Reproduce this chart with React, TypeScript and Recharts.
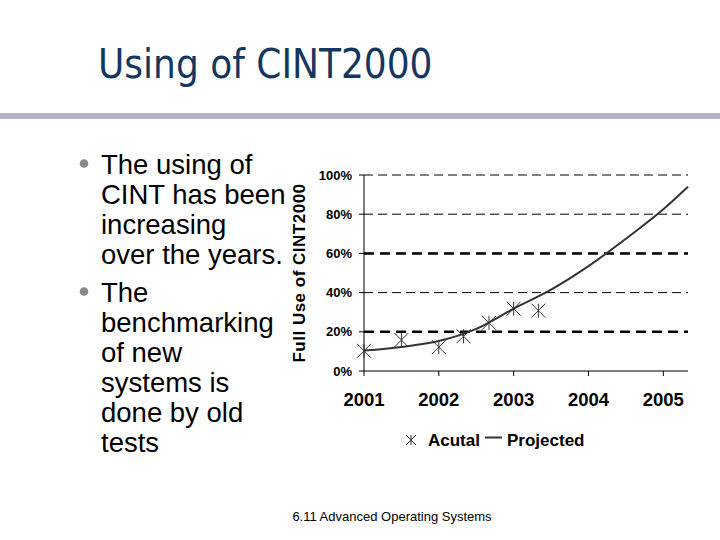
import { ComposedChart, Line, Scatter, XAxis, YAxis, ReferenceLine } from 'recharts'

// actual measurements (asterisks)
const actualYears = [2001, 2001.5, 2002, 2002.33, 2002.67, 2003, 2003.33]
const actualValues = [10.3, 15.8, 12.2, 17.7, 24.6, 31.8, 30.8]

// projected trend
const projectedYears = [2001, 2001.5, 2002, 2002.5, 2003, 2003.5, 2004, 2004.5, 2005, 2005.33]
const projectedValues = [10.4, 12.3, 15.3, 21.5, 31.8, 41.5, 53.5, 67.5, 82.5, 94]

const yearTicks = [2001, 2002, 2003, 2004, 2005]
const percentTicks = [0, 20, 40, 60, 80, 100]
const gridLevels = [20, 40, 60, 80, 100]
const boldGridLevels = [20, 60]

const bulletParagraphs = [
  ['The using of', 'CINT has been', 'increasing', 'over the years.'],
  ['The', 'benchmarking', 'of new', 'systems is', 'done by old', 'tests'],
]

const actual = actualYears.map((year, i) => ({ year, value: actualValues[i] }))
const projected = projectedYears.map((year, i) => ({ year, value: projectedValues[i] }))

const sans = "'Liberation Sans', Arial, sans-serif"

function Star({ cx, cy, size = 7 }: { cx?: number; cy?: number; size?: number }) {
  if (cx == null || cy == null) return null
  const s = size
  return (
    <path
      d={`M${cx - s},${cy - s}L${cx + s},${cy + s}M${cx - s},${cy + s}L${cx + s},${cy - s}M${cx},${cy - s}L${cx},${cy + s}`}
      stroke="#333"
      strokeWidth={1}
      fill="none"
    />
  )
}

function AxisTitle(props: any) {
  const vb = props.viewBox || { x: 0, y: 15, width: 74, height: 196 }
  const x = vb.x + 15
  const y = vb.y + vb.height / 2
  return (
    <text
      x={x}
      y={y}
      transform={`rotate(-90, ${x}, ${y})`}
      textAnchor="middle"
      fontFamily={sans}
      fontWeight="bold"
      fontSize={17}
      letterSpacing={0.5}
      fill="#000"
    >
      Full Use of CINT2000
    </text>
  )
}

export default function App() {
  const lineTops = [174, 302]
  return (
    <div style={{ position: 'absolute', left: 0, top: 0, width: 720, height: 540, background: '#fff' }}>
      <svg width={720} height={540} style={{ position: 'absolute', left: 0, top: 0 }}>
        <text
          x={98}
          y={78}
          fontFamily="'DejaVu Sans Condensed', 'DejaVu Sans', sans-serif"
          style={{ fontStretch: 'condensed' }}
          fontSize={40}
          fill="#15375f"
        >
          Using of CINT2000
        </text>
        <rect x={0} y={113} width={720} height={6} fill="#b3b3cb" />

        {bulletParagraphs.map((lines, p) => (
          <g key={p}>
            <circle cx={84} cy={lineTops[p] - 10.5} r={4.3} fill="#8a8a8a" />
            {lines.map((line, i) => (
              <text key={i} x={101} y={lineTops[p] + i * 30} fontFamily={sans} fontSize={27.5} fill="#000">
                {line}
              </text>
            ))}
          </g>
        ))}

        {/* legend */}
        <Star cx={411} cy={440} size={5} />
        <text x={428} y={446} fontFamily={sans} fontWeight="bold" fontSize={17} fill="#000">
          Acutal
        </text>
        <line x1={485} x2={502} y1={437.5} y2={437.5} stroke="#333" strokeWidth={2} />
        <text x={507} y={446} fontFamily={sans} fontWeight="bold" fontSize={17} fill="#000">
          Projected
        </text>

        <text x={392} y={521} textAnchor="middle" fontFamily={sans} fontSize={13} fill="#000">
          6.11 Advanced Operating Systems
        </text>
      </svg>

      <div style={{ position: 'absolute', left: 290, top: 160 }}>
        <ComposedChart width={420} height={300} margin={{ top: 15, right: 22, bottom: 0, left: 0 }}>
          {gridLevels.map((v) => {
            const bold = boldGridLevels.includes(v)
            return (
              <ReferenceLine
                key={v}
                y={v}
                stroke="#000"
                strokeWidth={bold ? 2.5 : 1}
                strokeDasharray={bold ? '10 6' : '9 5'}
              />
            )
          })}
          <XAxis
            type="number"
            dataKey="year"
            domain={[2001, 2005.33]}
            ticks={yearTicks}
            height={89}
            tickSize={5}
            tickMargin={17}
            stroke="#000"
            tick={{ fontFamily: sans, fontWeight: 'bold', fontSize: 18.5, fill: '#000' }}
          />
          <YAxis
            type="number"
            domain={[0, 100]}
            ticks={percentTicks}
            width={74}
            tickSize={5}
            tickMargin={7}
            stroke="#000"
            tickFormatter={(v: number) => `${v}%`}
            tick={{ fontFamily: sans, fontWeight: 'bold', fontSize: 13, fill: '#000' }}
            label={{ content: AxisTitle }}
          />
          <Line
            data={projected}
            dataKey="value"
            type="monotone"
            stroke="#333"
            strokeWidth={2}
            dot={false}
            isAnimationActive={false}
          />
          <Scatter data={actual} dataKey="value" shape={(p: any) => <Star cx={p.cx} cy={p.cy} />} isAnimationActive={false} />
        </ComposedChart>
      </div>
    </div>
  )
}
